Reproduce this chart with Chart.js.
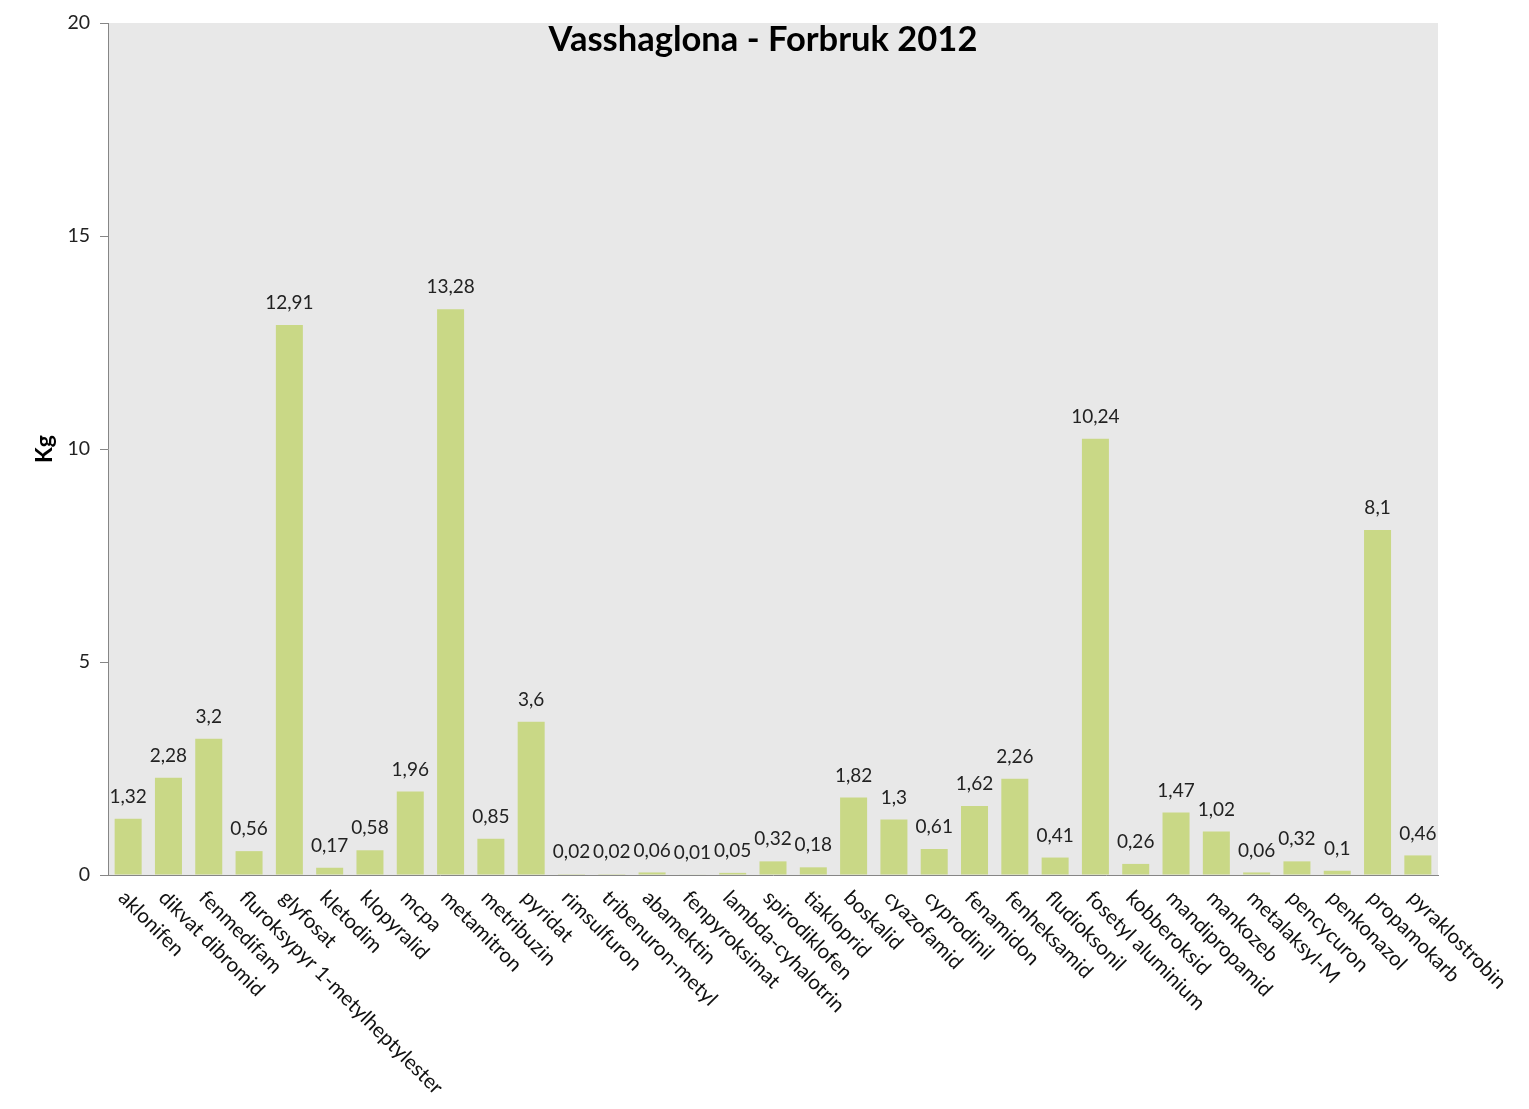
<!DOCTYPE html>
<html>
<head>
<meta charset="utf-8">
<script src="https://cdn.jsdelivr.net/npm/chart.js@4"></script>
<style>
html,body{margin:0;padding:0;background:#fff;}
#wrap{width:1529px;height:1109px;}
</style>
</head>
<body>
<div id="wrap"><canvas id="c" width="1529" height="1109"></canvas></div>
<script>
const chartTitle = "Vasshaglona - Forbruk 2012";
const yTitle = "Kg";

const stoffer = [
"aklonifen","dikvat dibromid","fenmedifam","fluroksypyr 1-metylheptylester",
"glyfosat","kletodim","klopyralid","mcpa","metamitron","metribuzin","pyridat",
"rimsulfuron","tribenuron-metyl","abamektin","fenpyroksimat","lambda-cyhalotrin",
"spirodiklofen","tiakloprid","boskalid","cyazofamid","cyprodinil","fenamidon",
"fenheksamid","fludioksonil","fosetyl aluminium","kobberoksid","mandipropamid",
"mankozeb","metalaksyl-M","pencycuron","penkonazol","propamokarb","pyraklostrobin"
];

const forbruk = [
1.32,2.28,3.2,0.56,12.91,0.17,0.58,1.96,13.28,0.85,3.6,
0.02,0.02,0.06,0.01,0.05,0.32,0.18,1.82,1.3,0.61,1.62,
2.26,0.41,10.24,0.26,1.47,1.02,0.06,0.32,0.1,8.1,0.46
];

const yTicks = [0,5,10,15,20];

const fontFam = "Lato, 'Open Sans', sans-serif";

const tegnPlugin = {
id:"tegn",
beforeDraw(chart){
const a = chart.chartArea;
const ctx = chart.ctx;
ctx.save();
ctx.fillStyle = "#E8E8E8";
ctx.fillRect(a.left, a.top, a.right - a.left, a.bottom - a.top);
ctx.restore();
},
afterDraw(chart){
const ctx = chart.ctx;
const a = chart.chartArea;
const x = chart.scales.x;
const y = chart.scales.y;
ctx.save();

// tittel
ctx.fillStyle = "#000";
ctx.font = "bold 34.5px " + fontFam;
ctx.textAlign = "center";
ctx.textBaseline = "middle";
ctx.fillText(chartTitle, 763, 40);

// y-akse tittel
ctx.save();
ctx.translate(45, 449);
ctx.rotate(-Math.PI/2);
ctx.font = "bold 23px " + fontFam;
ctx.fillText(yTitle, 0, 0);
ctx.restore();

// verdier
ctx.font = "19px " + fontFam;
ctx.fillStyle = "#222";
ctx.textAlign = "center";
ctx.textBaseline = "middle";
forbruk.forEach((v,i)=>{
const px = x.getPixelForValue(i);
const py = y.getPixelForValue(v);
ctx.fillText(String(v).replace(".", ","), px, py - 22);
});

// kategorier
ctx.font = "20.5px " + fontFam;
ctx.fillStyle = "#111";
ctx.textAlign = "left";
ctx.textBaseline = "top";
stoffer.forEach((s,i)=>{
const px = x.getPixelForValue(i);
ctx.save();
ctx.translate(px + 1, a.bottom + 12);
ctx.rotate(Math.PI/4);
ctx.fillText(s, 0, 0);
ctx.restore();
});

ctx.restore();
}
};

new Chart(
document.getElementById("c"),
{
type:"bar",
data:{
labels:stoffer,
datasets:[{
data:forbruk,
backgroundColor:"#C9D886",
borderWidth:0,
categoryPercentage:1,
barPercentage:0.67
}]
},
options:{
responsive:false,
animation:false,
layout:{padding:{top:23,right:91,bottom:226,left:0}},
plugins:{legend:{display:false},title:{display:false},tooltip:{enabled:false}},
scales:{
x:{
ticks:{display:false},
grid:{display:false},
border:{color:"#868686",width:1}
},
y:{
min:0,max:20,
afterBuildTicks(s){ s.ticks = yTicks.map(v=>({value:v})); },
afterFit(s){ s.width = 108; },
ticks:{
color:"#222",
font:{family:fontFam,size:19.5},
padding:10
},
grid:{drawOnChartArea:false,tickLength:8,color:"#868686"},
border:{color:"#868686",width:1}
}
}
},
plugins:[tegnPlugin]
}
);
</script>
</body>
</html>
